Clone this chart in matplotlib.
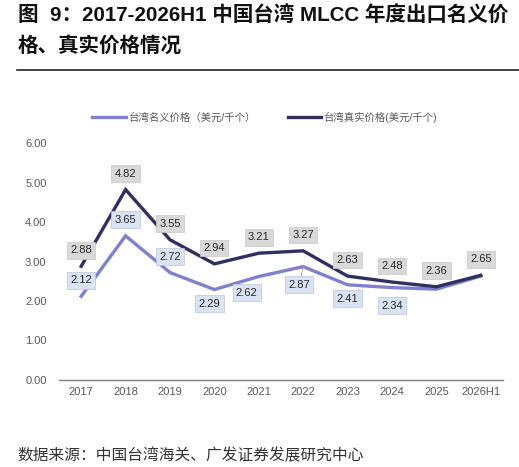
import matplotlib.pyplot as plt
from matplotlib.lines import Line2D

plt.rcParams['font.family'] = ['Liberation Sans', 'Noto Sans CJK SC', 'DejaVu Sans']

# data
years = ["2017", "2018", "2019", "2020", "2021", "2022", "2023", "2024", "2025", "2026H1"]
nominal = [2.12, 3.65, 2.72, 2.29, 2.62, 2.87, 2.41, 2.34, 2.30, 2.63]
real = [2.88, 4.82, 3.55, 2.94, 3.21, 3.27, 2.63, 2.48, 2.36, 2.65]
nominal_labeled = [True, True, True, True, True, True, True, True, False, False]

# label offsets in pixels (dx, dy)
nom_off = [(0, 16), (0, 16), (0, 16), (-5, -14), (-12, -16), (-4, -18),
           (0, -14), (0, -18), (0, 0), (0, 0)]

fig = plt.figure(figsize=(5.19, 4.67), dpi=100)
ax = fig.add_axes([59 / 519, 1 - 380 / 467, 444 / 519, 237 / 467])

x = list(range(len(years)))
ax.plot(x, nominal, color="#8080cc", lw=2.4, label="台湾名义价格（美元/千个）", solid_joinstyle="miter")
ax.plot(x, real, color="#2f3061", lw=2.4, label="台湾真实价格(美元/千个)", solid_joinstyle="miter")

for i, v in enumerate(real):
    ax.annotate(f"{v:.2f}", (i, v), xytext=(0, 16), textcoords="offset pixels",
                ha="center", va="center", fontsize=8, color="#262626",
                bbox=dict(boxstyle="square,pad=0.3", fc="#d9d9d9", ec="#c8c8c8", lw=0.5))

for i, v in enumerate(nominal):
    if not nominal_labeled[i]:
        continue
    dx, dy = nom_off[i]
    # 2022 label sits a bit further away, with a thin leader line
    arrow = dict(arrowstyle="-", color="#a6a6a6", lw=0.6, shrinkA=0, shrinkB=0) if i == 5 else None
    ax.annotate(f"{v:.2f}", (i, v), xytext=(dx, dy), textcoords="offset pixels",
                ha="center", va="center", fontsize=8, color="#262626",
                arrowprops=arrow,
                bbox=dict(boxstyle="square,pad=0.3", fc="#dae3f3", ec="#bcc6d8", lw=0.5))

ax.set_xlim(-0.5, len(years) - 0.5)
ax.set_ylim(0, 6)
ax.set_yticks([0, 1, 2, 3, 4, 5, 6])
ax.set_yticklabels([f"{t:.2f}" for t in [0, 1, 2, 3, 4, 5, 6]])
ax.set_xticks(x)
ax.set_xticklabels(years)
ax.tick_params(axis="both", length=0, labelsize=8, colors="#595959")
ax.tick_params(axis="x", pad=5)
ax.tick_params(axis="y", pad=9)
for s in ["top", "right", "left"]:
    ax.spines[s].set_visible(False)
ax.spines["bottom"].set_color("#808080")
ax.spines["bottom"].set_linewidth(1)

fig.legend(loc="center", bbox_to_anchor=(265 / 519, 1 - 117 / 467), ncol=2,
           frameon=False, fontsize=7.5, labelcolor="#595959",
           handlelength=3.2, handletextpad=0.3, columnspacing=3.0)

fig.text(18 / 519, 1 - 16 / 467, "图  9：2017-2026H1 中国台湾 MLCC 年度出口名义价",
         fontsize=14.8, fontweight="semibold", va="center", ha="left", color="#111111")
fig.text(18 / 519, 1 - 46 / 467, "格、真实价格情况",
         fontsize=14.8, fontweight="semibold", va="center", ha="left", color="#111111")
fig.add_artist(Line2D([17 / 519, 1], [1 - 70 / 467, 1 - 70 / 467], color="#222222", lw=1.2))

fig.text(17 / 519, 1 - 456 / 467, "数据来源：中国台湾海关、广发证券发展研究中心",
         fontsize=11.3, va="center", ha="left", color="#333333")

fig.savefig("out.png", dpi=100)
